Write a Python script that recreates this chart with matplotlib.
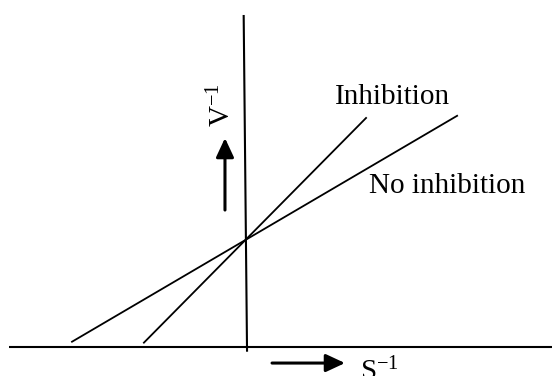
import matplotlib
matplotlib.use('Agg')
import matplotlib.pyplot as plt

plt.rcParams['font.family'] = ['Liberation Serif', 'DejaVu Serif']
plt.rcParams['mathtext.fontset'] = 'custom'
plt.rcParams['mathtext.rm'] = 'Liberation Serif'
plt.rcParams['mathtext.it'] = 'Liberation Serif:italic'

# Lineweaver-Burk plot: x = 1/S, y = 1/V
y_intercept = 1.0            # 1/Vmax, shared by both lines
x_intercepts = [-2.0, -1.16]  # -1/Km (no inhibition), -1/Km_app (inhibition)
line_labels = ['No inhibition', 'Inhibition']
x_starts = [-1.91, -1.12]
x_ends = [2.33, 1.33]

fig = plt.figure(figsize=(5.52, 3.76), dpi=100)
ax = fig.add_axes([0, 0, 1, 1])
ax.set_xlim(-2.691, 3.362)
ax.set_ylim(-0.271, 3.243)
ax.set_axis_off()

# axes lines
ax.plot([-2.59, 3.4], [0.0, 0.0], color='black', lw=1.5, solid_capstyle='butt')
ax.plot([-0.019, 0.018], [3.103, -0.044], color='black', lw=1.5, solid_capstyle='butt')

# the two lines, starting just above the x axis
for xi, x0, x1 in zip(x_intercepts, x_starts, x_ends):
    slope = -y_intercept / xi
    ax.plot([x0, x1], [y_intercept + slope * x0, y_intercept + slope * x1],
            color='black', lw=1.3, solid_capstyle='butt')

# labels
ax.text(0.983, 2.27, line_labels[1], fontsize=21, ha='left', va='baseline')
ax.text(1.352, 1.44, line_labels[0], fontsize=21, ha='left', va='baseline')

ax.text(-0.161, 2.059, r'V$^{-1}$', fontsize=21, rotation=90,
        rotation_mode='anchor', ha='left', va='baseline')
ax.text(1.256, -0.308, r'S$^{-1}$', fontsize=21, ha='left', va='baseline')

# direction arrows
arrow_kw = dict(arrowstyle='-|>,head_width=0.27,head_length=0.58', color='black',
                lw=2.2, mutation_scale=20, shrinkA=0, shrinkB=0)
ax.annotate('', xy=(-0.224, 1.953), xytext=(-0.224, 1.28), arrowprops=arrow_kw)
ax.annotate('', xy=(1.092, -0.15), xytext=(0.292, -0.15), arrowprops=arrow_kw)

fig.savefig('out.png', dpi=100, facecolor='white')
